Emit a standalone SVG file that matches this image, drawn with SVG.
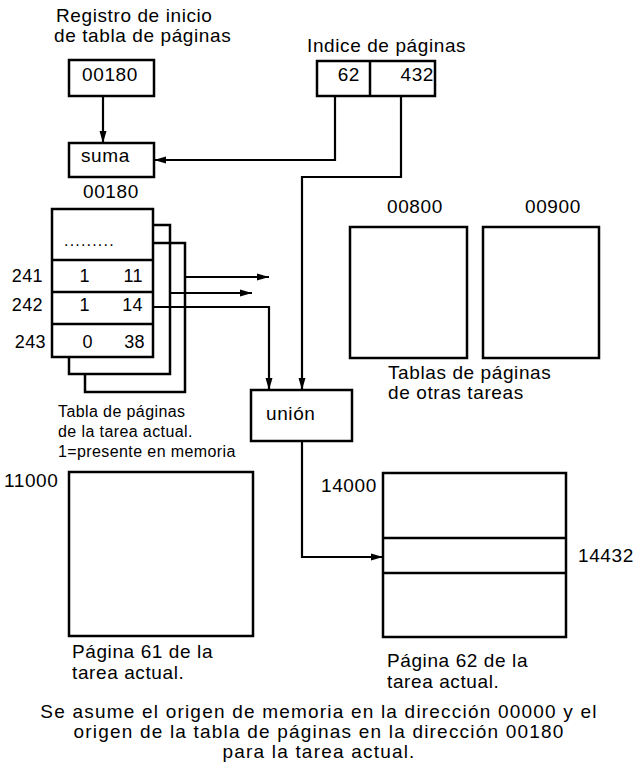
<svg xmlns="http://www.w3.org/2000/svg" width="637" height="768" viewBox="0 0 637 768">
<style>
text{font-family:"Liberation Sans",Arial,Helvetica,sans-serif;fill:#000}
.t{font-size:19px;letter-spacing:0.6px}
.v{font-size:18px;letter-spacing:0.4px}
.c{font-size:16px;letter-spacing:0.4px}
.b{font-size:19px;letter-spacing:1.2px;text-anchor:middle}
.box{fill:none;stroke:#000;stroke-width:2.5}
.ln{fill:none;stroke:#000;stroke-width:2.5}
.cn{fill:none;stroke:#000;stroke-width:2.2}
</style>
<defs>
<marker id="ah" markerUnits="userSpaceOnUse" markerWidth="12" markerHeight="8" refX="12" refY="4" orient="auto">
<path d="M0,0.5 L12,4 L0,7.5 z" fill="#000"/>
</marker>
</defs>
<rect width="637" height="768" fill="#fff"/>

<g id="registro">
<text class="t" x="56" y="22">Registro de inicio</text>
<text class="t" x="54" y="42">de tabla de páginas</text>
<rect class="box" x="69" y="60" width="85" height="36"/>
<text class="t" x="110" y="81" text-anchor="middle">00180</text>
</g>

<g id="suma">
<rect class="box" x="69" y="143" width="85" height="34"/>
<text class="t" x="81" y="162">suma</text>
<text class="t" x="83" y="198">00180</text>
</g>

<g id="indice">
<text class="t" x="307" y="52">Indice de páginas</text>
<rect class="box" x="317" y="61" width="118" height="35"/>
<line class="ln" x1="370" y1="61" x2="370" y2="96"/>
<text class="t" x="360" y="81" text-anchor="end">62</text>
<text class="t" x="434" y="81" text-anchor="end">432</text>
</g>

<g id="tabla-actual">
<polyline class="ln" points="153,243 185,243 185,392 85,392 85,374"/>
<polyline class="ln" points="153,225 170,225 170,374 69,374 69,357"/>
<rect x="52" y="209" width="101" height="148" fill="#fff" stroke="#000" stroke-width="2.5"/>
<line class="ln" x1="52" y1="260" x2="153" y2="260"/>
<line class="ln" x1="52" y1="292" x2="153" y2="292"/>
<line class="ln" x1="52" y1="324" x2="153" y2="324"/>
<text class="c" x="64" y="246" style="letter-spacing:1.2px">.........</text>
<text class="v" x="43" y="282" text-anchor="end">241</text>
<text class="v" x="43" y="311" text-anchor="end">242</text>
<text class="v" x="46" y="348" text-anchor="end">243</text>
<text class="v" x="90" y="282" text-anchor="end">1</text>
<text class="v" x="143" y="282" text-anchor="end">11</text>
<text class="v" x="90" y="311" text-anchor="end">1</text>
<text class="v" x="143" y="311" text-anchor="end">14</text>
<text class="v" x="93" y="348" text-anchor="end">0</text>
<text class="v" x="145" y="348" text-anchor="end">38</text>
<text class="c" x="58" y="417">Tabla de páginas</text>
<text class="c" x="58" y="437">de la tarea actual.</text>
<text class="c" x="58" y="457">1=presente en memoria</text>
</g>

<g id="otras-tablas">
<text class="t" x="387" y="213">00800</text>
<text class="t" x="525" y="213">00900</text>
<rect class="box" x="350" y="227" width="117" height="131"/>
<rect class="box" x="483" y="227" width="116" height="131"/>
<text class="t" x="388" y="379">Tablas de páginas</text>
<text class="t" x="388" y="399">de otras tareas</text>
</g>

<g id="union">
<rect class="box" x="251" y="390" width="101" height="51"/>
<text class="t" x="266" y="420">unión</text>
</g>

<g id="pagina61">
<text class="t" x="4" y="487">11000</text>
<rect class="box" x="69" y="472" width="184" height="164"/>
<text class="t" x="72" y="658">Página 61 de la</text>
<text class="t" x="72" y="679">tarea actual.</text>
</g>

<g id="pagina62">
<text class="t" x="321" y="492">14000</text>
<rect class="box" x="383" y="473" width="183" height="164"/>
<line class="ln" x1="383" y1="538" x2="566" y2="538"/>
<line class="ln" x1="383" y1="573" x2="566" y2="573"/>
<text class="t" x="578" y="562">14432</text>
<text class="t" x="387" y="667">Página 62 de la</text>
<text class="t" x="387" y="688">tarea actual.</text>
</g>

<g id="connectors">
<line class="cn" x1="103" y1="96" x2="103" y2="143" marker-end="url(#ah)"/>
<polyline class="cn" points="335,96 335,160 154,160" marker-end="url(#ah)"/>
<polyline class="cn" points="401,96 401,177 302,177 302,390" marker-end="url(#ah)"/>
<line class="cn" x1="185" y1="277" x2="269" y2="277" marker-end="url(#ah)"/>
<line class="cn" x1="170" y1="293" x2="252" y2="293" marker-end="url(#ah)"/>
<polyline class="cn" points="152,307 269,307 269,390" marker-end="url(#ah)"/>
<polyline class="cn" points="302,441 302,557 383,557" marker-end="url(#ah)"/>
</g>

<g id="nota">
<text class="b" x="319" y="718">Se asume el origen de memoria en la dirección 00000 y el</text>
<text class="b" x="319" y="738">origen de la tabla de páginas en la dirección 00180</text>
<text class="b" x="319" y="758">para la tarea actual.</text>
</g>
</svg>
